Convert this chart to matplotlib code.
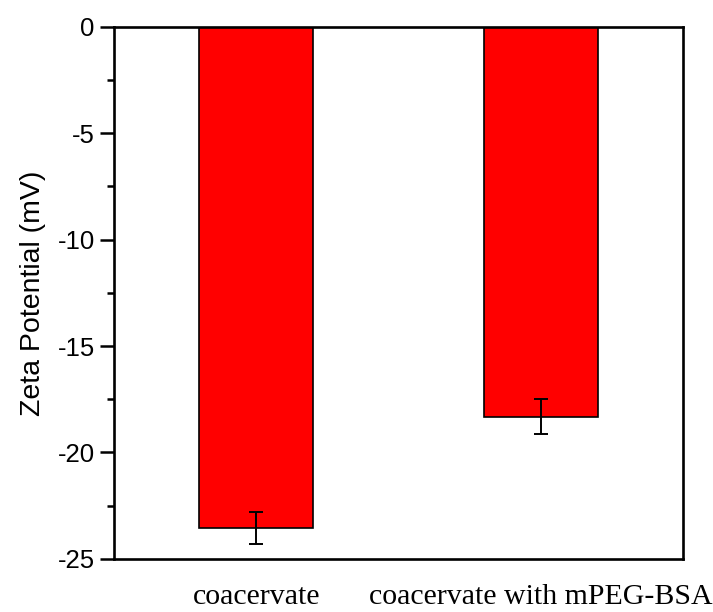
import matplotlib
matplotlib.use("Agg")
import matplotlib.pyplot as plt
from matplotlib.ticker import MultipleLocator

categories = ["coacervate", "coacervate with mPEG-BSA"]
values = [-23.55, -18.32]
errors = [0.75, 0.82]
yticks = [0, -5, -10, -15, -20, -25]

plt.rcParams['axes.unicode_minus'] = False

fig = plt.figure(figsize=(7.13, 6.12), dpi=100)
ax = fig.add_axes([0.160, 0.087, 0.798, 0.869])

x = [1, 2]
ax.bar(x, values, width=0.4, color="#FF0000", edgecolor="black", linewidth=1.2, zorder=2)
ax.errorbar(x, values, yerr=errors, fmt="none", ecolor="black", elinewidth=1.4,
            capsize=5, capthick=1.4, zorder=3)

ax.set_xlim(0.5, 2.5)
ax.set_ylim(-25, 0)
ax.set_yticks(yticks)
ax.set_yticklabels([str(t) for t in yticks], fontsize=18.5, family="Liberation Sans")
ax.yaxis.set_minor_locator(MultipleLocator(2.5))
ax.tick_params(axis="y", which="major", direction="out", length=10, width=1.8, pad=4, right=False)
ax.tick_params(axis="y", which="minor", direction="out", length=5, width=1.8, right=False)
ax.set_xticks(x)
ax.set_xticklabels(categories, fontsize=21.5, family="Liberation Serif")
ax.tick_params(axis="x", which="both", length=0, pad=18)
lbls = ax.get_xticklabels()
lbls[1].set_x(1.985)

for s in ax.spines.values():
    s.set_linewidth(1.9)

ax.set_ylabel("Zeta Potential (mV)", fontsize=20.5, family="Liberation Sans", labelpad=8)

fig.savefig("out.png", dpi=100)
